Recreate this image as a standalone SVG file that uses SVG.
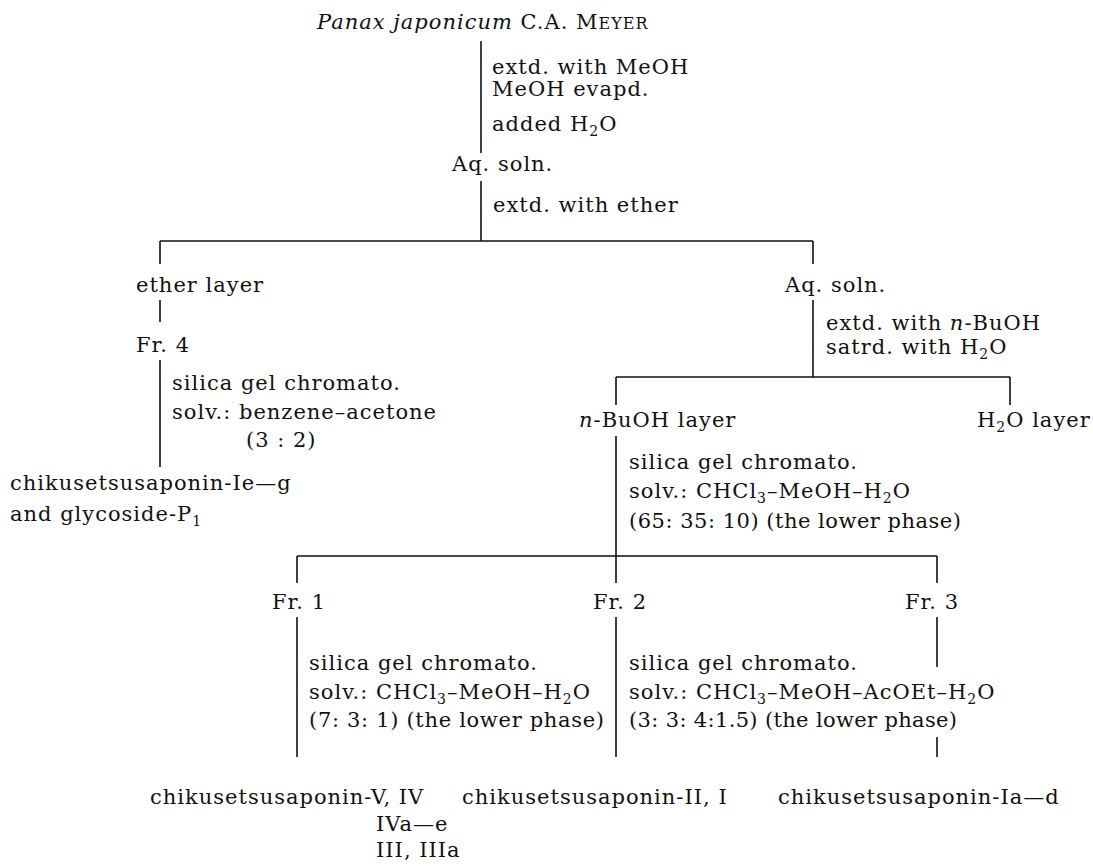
<svg xmlns="http://www.w3.org/2000/svg" width="1093" height="868" viewBox="0 0 1093 868">
<style>
text{font-family:"DejaVu Serif","Liberation Serif",serif;font-size:21px;fill:#111;letter-spacing:1px}
.i{font-style:italic}
.sc{font-size:16px}
.sub{font-size:14px}
#connectors path{stroke:#111;stroke-width:1.6;fill:none}
</style>
<rect width="1093" height="868" fill="#fff"/>
<g id="connectors">
<path d="M481 41V153"/>
<path d="M481 181V241"/>
<path d="M160 241H813M160 241V264M813 241V264"/>
<path d="M160 300V322"/>
<path d="M160 360V467"/>
<path d="M813 300V377"/>
<path d="M616 377H1010M616 377V405M1010 377V405"/>
<path d="M616 436V556"/>
<path d="M297 556H937M297 556V583M616 556V583M937 556V583"/>
<path d="M297 617V757"/>
<path d="M616 617V757"/>
<path d="M937 617V667M937 737V757"/>
</g>
<g id="n-source"><text x="317" y="29"><tspan class="i">Panax japonicum</tspan> C.A. M<tspan class="sc">EYER</tspan></text></g>
<g id="e-step1"><text x="492" y="74">extd. with MeOH</text><text x="492" y="96">MeOH evapd.</text><text x="492" y="131">added H<tspan class="sub" dy="5">2</tspan><tspan dy="-5">O</tspan></text></g>
<g id="n-aq1"><text x="452" y="171">Aq. soln.</text></g>
<g id="e-step2"><text x="493" y="212">extd. with ether</text></g>
<g id="n-ether"><text x="136" y="292">ether layer</text></g>
<g id="n-fr4"><text x="136" y="352">Fr. 4</text></g>
<g id="e-step-fr4"><text x="172" y="390">silica gel chromato.</text><text x="172" y="419">solv.: benzene–acetone</text><text x="246" y="447">(3 : 2)</text></g>
<g id="n-res-fr4"><text x="10" y="490">chikusetsusaponin-Ie—g</text><text x="10" y="521">and glycoside-P<tspan class="sub" dy="5">1</tspan></text></g>
<g id="n-aq2"><text x="785" y="292">Aq. soln.</text></g>
<g id="e-step3"><text x="826" y="330">extd. with <tspan class="i">n</tspan>-BuOH</text><text x="826" y="354">satrd. with H<tspan class="sub" dy="5">2</tspan><tspan dy="-5">O</tspan></text></g>
<g id="n-buoh"><text x="579" y="427"><tspan class="i">n</tspan>-BuOH layer</text></g>
<g id="n-h2o"><text x="977" y="427">H<tspan class="sub" dy="5">2</tspan><tspan dy="-5">O layer</tspan></text></g>
<g id="e-step4"><text x="629" y="469">silica gel chromato.</text><text x="629" y="498">solv.: CHCl<tspan class="sub" dy="5">3</tspan><tspan dy="-5">–MeOH–H</tspan><tspan class="sub" dy="5">2</tspan><tspan dy="-5">O</tspan></text><text x="629" y="528" textLength="333" lengthAdjust="spacing">(65: 35: 10) (the lower phase)</text></g>
<g id="n-fr1"><text x="272" y="609">Fr. 1</text></g>
<g id="n-fr2"><text x="593" y="609">Fr. 2</text></g>
<g id="n-fr3"><text x="905" y="609">Fr. 3</text></g>
<g id="e-step-fr1"><text x="309" y="670">silica gel chromato.</text><text x="309" y="699">solv.: CHCl<tspan class="sub" dy="5">3</tspan><tspan dy="-5">–MeOH–H</tspan><tspan class="sub" dy="5">2</tspan><tspan dy="-5">O</tspan></text><text x="309" y="727" textLength="296" lengthAdjust="spacing">(7: 3: 1) (the lower phase)</text></g>
<g id="e-step-fr2"><text x="629" y="670">silica gel chromato.</text><text x="629" y="699">solv.: CHCl<tspan class="sub" dy="5">3</tspan><tspan dy="-5">–MeOH–AcOEt–H</tspan><tspan class="sub" dy="5">2</tspan><tspan dy="-5">O</tspan></text><text x="629" y="727" textLength="329" lengthAdjust="spacing">(3: 3: 4:1.5) (the lower phase)</text></g>
<g id="n-res-fr1"><text x="150" y="804">chikusetsusaponin-V, IV</text><text x="376" y="831">IVa—e</text><text x="376" y="857">III, IIIa</text></g>
<g id="n-res-fr2"><text x="462" y="804">chikusetsusaponin-II, I</text></g>
<g id="n-res-fr3"><text x="778" y="804">chikusetsusaponin-Ia—d</text></g>
</svg>
